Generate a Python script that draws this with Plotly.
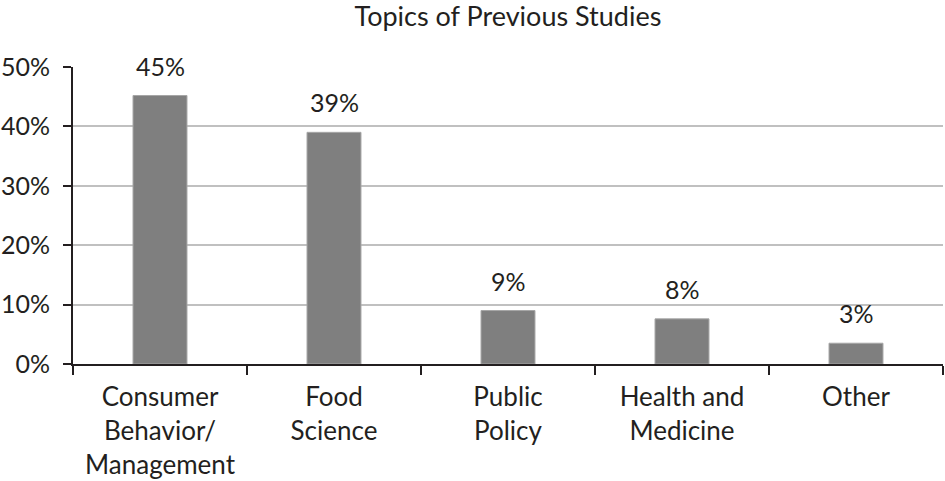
import plotly.graph_objects as go

categories = ["Consumer<br>Behavior/<br>Management", "Food<br>Science", "Public<br>Policy",
              "Health and<br>Medicine", "Other"]
values = [45.2, 39.0, 9.0, 7.6, 3.5]
labels = ["45%", "39%", "9%", "8%", "3%"]
y_ticks = [0, 10, 20, 30, 40, 50]
y_ticklabels = ["0%", "10%", "20%", "30%", "40%", "50%"]

FONT = "Lato"
TXT = "#231f20"
FS = 26
FS_NUM = 25

fig = go.Figure()
fig.add_trace(go.Bar(
    x=categories, y=values, width=0.31,
    marker=dict(color="#7f7f7f", line=dict(color="#a6a6a6", width=1)),
    hoverinfo="skip",
))
for c, v, l in zip(categories, values, labels):
    fig.add_annotation(x=c, y=v, text=l, showarrow=False, yanchor="bottom",
                       yshift=13, font=dict(family=FONT, size=FS_NUM, color=TXT))

fig.update_layout(
    width=945, height=481,
    margin=dict(l=73, r=2, t=67, b=117, autoexpand=False),
    paper_bgcolor="white", plot_bgcolor="white",
    showlegend=False,
    title=dict(text="Topics of Previous Studies", x=0.5375, xanchor="center",
               y=0.985, yref="container", yanchor="top", pad=dict(t=0),
               font=dict(family=FONT, size=27, color=TXT)),
    font=dict(family=FONT, size=FS, color=TXT),
)
fig.update_xaxes(
    automargin=False,
    showline=True, linecolor=TXT, linewidth=2,
    ticks="outside", tickson="boundaries", ticklen=9, tickwidth=2, tickcolor=TXT,
    ticklabelstandoff=9,
    tickfont=dict(family=FONT, size=FS, color=TXT),
    showgrid=False,
)
fig.update_yaxes(
    automargin=False,
    range=[0, 50], tickvals=y_ticks, ticktext=y_ticklabels,
    showline=True, linecolor=TXT, linewidth=2,
    ticks="outside", ticklen=8, tickwidth=2, tickcolor=TXT,
    ticklabelstandoff=8,
    tickfont=dict(family=FONT, size=FS_NUM, color=TXT),
    showgrid=True, gridcolor="#c0c0c0", gridwidth=2,
    zeroline=False,
)
fig.write_html("out.html", config={"displayModeBar": False},
               post_script="document.body.style.margin='0';document.body.style.overflow='hidden';")
